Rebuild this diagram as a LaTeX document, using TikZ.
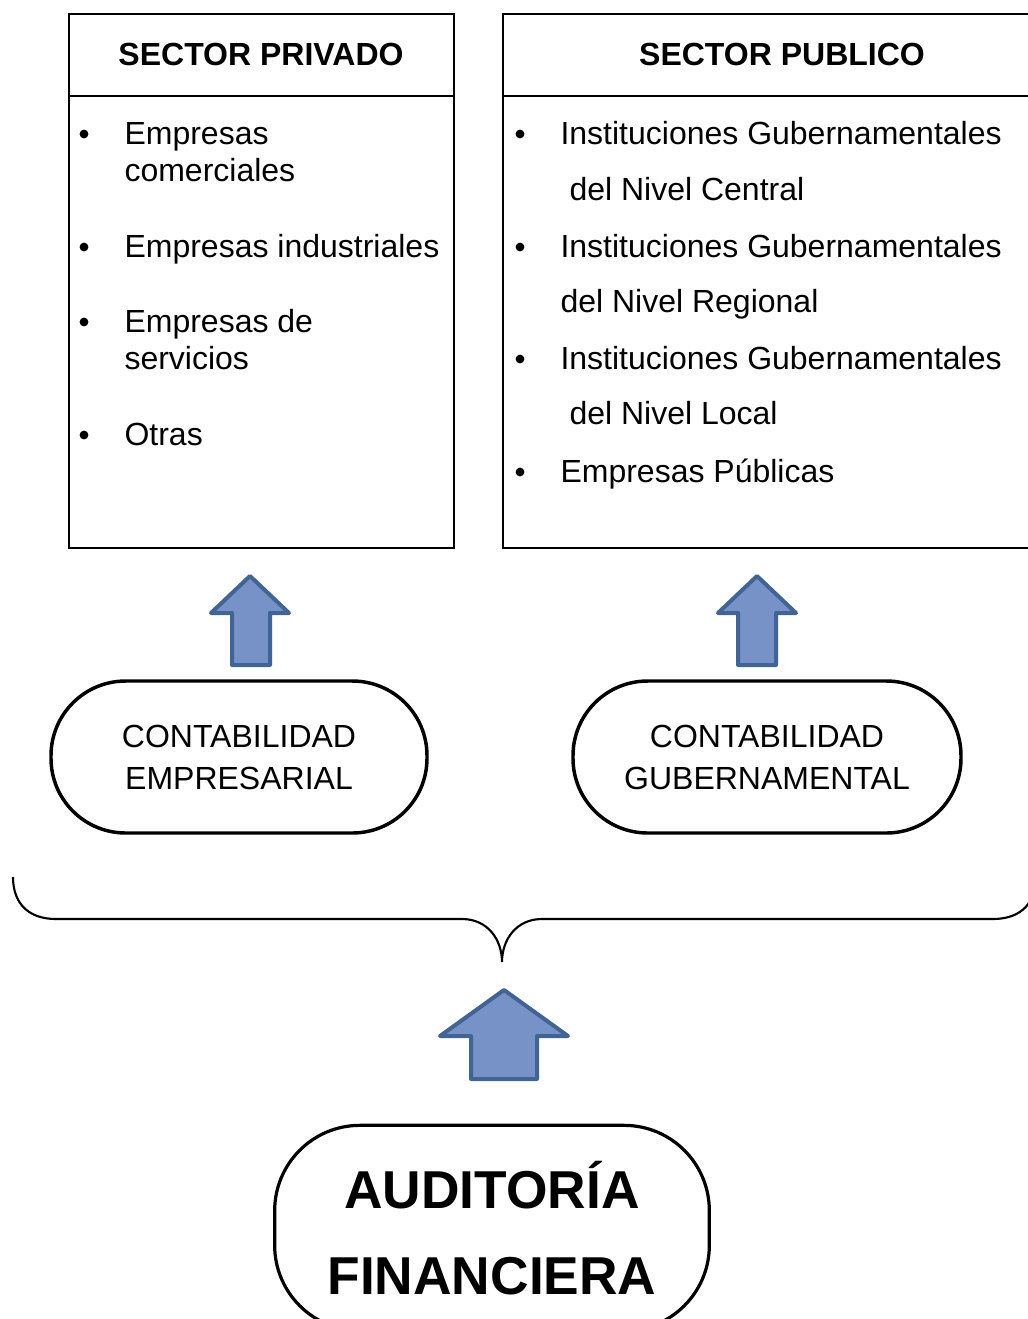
\documentclass[tikz,border=0pt]{standalone}
\usepackage{fontspec}
\setmainfont{Liberation Sans}
\definecolor{bordeazul}{RGB}{66,100,148}
\definecolor{rellenoazul}{RGB}{118,146,198}

\begin{document}
\begin{tikzpicture}[x=0.375pt,y=-0.375pt,
    marco/.style={line width=0.8pt},
    titulo/.style={font=\bfseries\fontsize{12}{14}\selectfont},
    item/.style={anchor=base west,inner sep=0pt,font=\fontsize{12}{14}\selectfont},
    punto/.style={circle,fill,inner sep=0pt,minimum size=3.3pt},
    ovalo/.style={draw,line width=1.3pt,rounded corners=28pt,align=center,font=\fontsize{12}{15.75}\selectfont},
    flecha/.style={draw=bordeazul,line width=1.5pt,fill=rellenoazul,line join=round}]
      \clip (0,0) rectangle (1028,1319);
      % cuadros de sectores
      \draw[marco] (69,14) rectangle (454,548);
      \draw[marco] (69,96) -- (454,96);
      \draw[marco] (503,14) rectangle (1062,548);
      \draw[marco] (503,96) -- (1062,96);
      \node[titulo] (privado) at (261,54) {SECTOR PRIVADO};
      \node[titulo] (publico) at (782,54) {SECTOR PUBLICO};
      % sector privado
      \node[punto] (p1) at (84,134) {};
      \node[item] (e1) at (124,144) {Empresas};
      \node[item] (e1b) at (124,181) {comerciales};
      \node[punto] (p2) at (84,247) {};
      \node[item] (e2) at (124,257) {Empresas industriales};
      \node[punto] (p3) at (84,322) {};
      \node[item] (e3) at (124,332) {Empresas de};
      \node[item] (e3b) at (124,369) {servicios};
      \node[punto] (p4) at (84,435) {};
      \node[item] (e4) at (124,445) {Otras};
      % sector publico
      \node[punto] (q1) at (520,134) {};
      \node[item] (i1) at (560,144) {Instituciones Gubernamentales};
      \node[item] (i1b) at (569,200) {del Nivel Central};
      \node[punto] (q2) at (520,247) {};
      \node[item] (i2) at (560,257) {Instituciones Gubernamentales};
      \node[item] (i2b) at (560,312) {del Nivel Regional};
      \node[punto] (q3) at (520,359) {};
      \node[item] (i3) at (560,369) {Instituciones Gubernamentales};
      \node[item] (i3b) at (569,424) {del Nivel Local};
      \node[punto] (q4) at (520,472) {};
      \node[item] (i4) at (560,482) {Empresas Públicas};
      % flechas
      \draw[flecha] (250,576) -- (289,613) -- (270,613) -- (270,665) -- (232,665) -- (232,613) -- (211,613) -- cycle;
      \draw[flecha] (757,576) -- (796,613) -- (776,613) -- (776,665) -- (738,665) -- (738,613) -- (718,613) -- cycle;
      \draw[flecha] (504,990) -- (568,1036) -- (537,1036) -- (537,1079) -- (471,1079) -- (471,1036) -- (440,1036) -- cycle;
      % contabilidades
      \node[ovalo,minimum width=141pt,minimum height=57pt] (empresarial) at (239,757) {CONTABILIDAD\\EMPRESARIAL};
      \node[ovalo,minimum width=145.5pt,minimum height=57pt] (gubernamental) at (767,757) {CONTABILIDAD\\GUBERNAMENTAL};
      % llave
      \draw[line width=0.8pt] (13,877) .. controls (13,903) and (28,919) .. (56,919) -- (462,919)
        .. controls (488,919) and (502,940) .. (502,962)
        .. controls (502,940) and (516,919) .. (542,919) -- (993,919)
        .. controls (1021,919) and (1036,903) .. (1036,877);
      % auditoria
      \node[ovalo,line width=1.2pt,rounded corners=32pt,minimum width=163pt,minimum height=77pt,
        font=\bfseries\fontsize{20}{32}\selectfont] (auditoria) at (492,1228) {AUDITORÍA\\FINANCIERA};
\end{tikzpicture}
\end{document}
